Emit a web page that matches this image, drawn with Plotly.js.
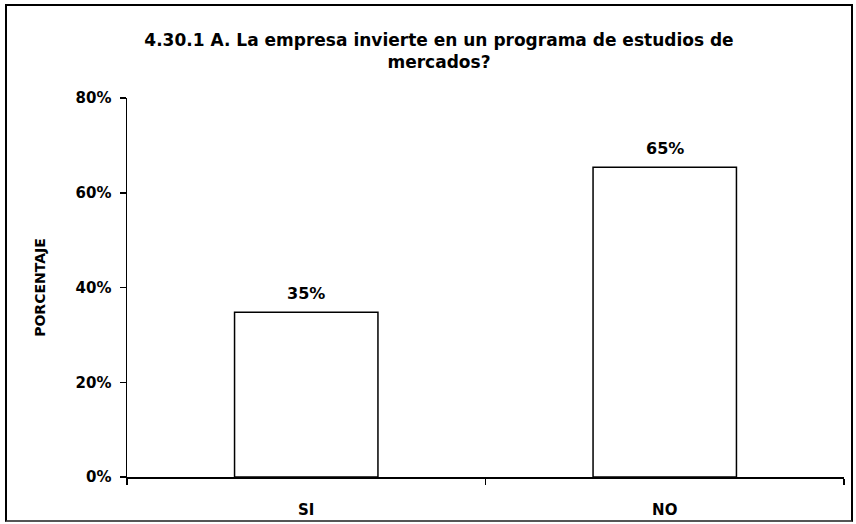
<!DOCTYPE html>
<html>
<head>
<meta charset="utf-8">
<script src="https://cdn.plot.ly/plotly-3.0.1.min.js"></script>
<style>
  html, body { margin: 0; padding: 0; background: #fff; }
  #wrap { position: relative; width: 856px; height: 524px; }
  #chart { position: absolute; left: 0; top: 0; width: 856px; height: 524px; }
  #frame { position: absolute; left: 5px; top: 4px; width: 844px; height: 514px;
           border: 2px solid #000; border-bottom-color: #555; pointer-events: none; }
</style>
</head>
<body>
<div id="wrap">
  <div id="chart"></div>
  <div id="frame"></div>
</div>
<script>
// Data
const categories = ["SI", "NO"];
const values = [0.348, 0.654];
const titleText = "4.30.1 A. La empresa invierte en un programa de estudios de<br>mercados?";
const yTitle = "PORCENTAJE";

const FONT = "DejaVu Sans, Liberation Sans, Arial, sans-serif";

const trace = {
  type: "bar",
  x: categories,
  y: values,
  marker: { color: "#ffffff", line: { color: "#000000", width: 1.5 } },
  hoverinfo: "x+y"
};

const annotations = categories.map((c, i) => ({
  x: c, y: values[i], xref: "x", yref: "y",
  text: Math.round(values[i] * 100) + "%",
  showarrow: false, yanchor: "bottom", yshift: 7,
  font: { family: FONT, size: 16, color: "#000", weight: "bold" }
}));

const layout = {
  width: 856, height: 524,
  paper_bgcolor: "#ffffff", plot_bgcolor: "#ffffff",
  margin: { l: 127, r: 12, t: 98, b: 47, pad: 0 },
  showlegend: false,
  bargap: 0.6,
  title: {
    text: titleText,
    font: { family: FONT, size: 17, color: "#000", weight: "bold" },
    xref: "container", yref: "container",
    x: 439 / 856, xanchor: "center",
    y: 1 - 46 / 524, yanchor: "top"
  },
  xaxis: {
    type: "category",
    showline: true, linecolor: "#000", linewidth: 1.5,
    ticks: "outside", tickson: "boundaries", ticklen: 6, tickwidth: 1.5, tickcolor: "#000",
    ticklabelstandoff: 18,
    tickfont: { family: FONT, size: 15, color: "#000", weight: "bold" },
    showgrid: false, zeroline: false
  },
  yaxis: {
    range: [0, 0.8], dtick: 0.2, tickformat: ".0%",
    showline: true, linecolor: "#000", linewidth: 1.5,
    ticks: "outside", ticklen: 6, tickwidth: 1.5, tickcolor: "#000",
    ticklabelstandoff: 5,
    tickfont: { family: FONT, size: 15, color: "#000", weight: "bold" },
    showgrid: false, zeroline: false,
    title: {
      text: yTitle, standoff: 26,
      font: { family: FONT, size: 14, color: "#000", weight: "bold" }
    }
  },
  annotations: annotations
};

Plotly.newPlot("chart", [trace], layout, { displayModeBar: false, staticPlot: true });
</script>
</body>
</html>
